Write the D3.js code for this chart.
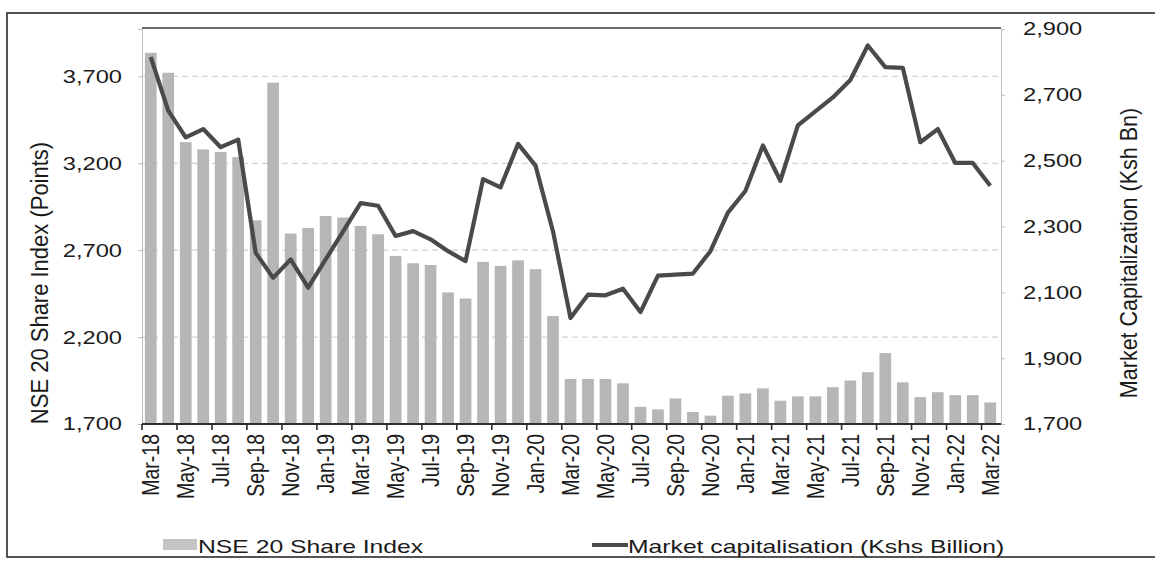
<!DOCTYPE html>
<html>
<head>
<meta charset="utf-8">
<script src="https://cdn.jsdelivr.net/npm/d3@7"></script>
<style>
  html, body { margin: 0; padding: 0; background: #fff; }
  svg { display: block; font-family: "Liberation Sans", Arial, sans-serif; }
</style>
</head>
<body>
<svg id="chart" width="1155" height="561"></svg>
<script>
// Months on the category axis
const months = [
    'Mar-18','Apr-18','May-18','Jun-18','Jul-18','Aug-18','Sep-18','Oct-18','Nov-18','Dec-18',
    'Jan-19','Feb-19','Mar-19','Apr-19','May-19','Jun-19','Jul-19','Aug-19','Sep-19','Oct-19','Nov-19','Dec-19',
    'Jan-20','Feb-20','Mar-20','Apr-20','May-20','Jun-20','Jul-20','Aug-20','Sep-20','Oct-20','Nov-20','Dec-20',
    'Jan-21','Feb-21','Mar-21','Apr-21','May-21','Jun-21','Jul-21','Aug-21','Sep-21','Oct-21','Nov-21','Dec-21',
    'Jan-22','Feb-22','Mar-22'
];

// NSE 20 Share Index (points) - bars, left axis
const nse20 = [
    3836, 3721, 3322, 3280, 3265, 3236, 2872, 3664, 2796, 2828,
    2897, 2888, 2840, 2792, 2667, 2625, 2615, 2457, 2422, 2633, 2610, 2642,
    2591, 2321, 1959, 1959, 1959, 1934, 1799, 1784, 1847, 1769, 1748, 1863,
    1876, 1905, 1834, 1859, 1859, 1912, 1950, 1998, 2108, 1940, 1855, 1883,
    1866, 1866, 1824
];

// Market capitalisation (Kshs Billion) - line, right axis
const marketCap = [
    2815, 2652, 2571, 2596, 2541, 2564, 2220, 2144, 2200, 2114,
    2200, 2285, 2371, 2363, 2271, 2286, 2261, 2225, 2195, 2444, 2419, 2551,
    2485, 2285, 2022, 2093, 2091, 2111, 2040, 2151, 2154, 2157, 2225, 2342,
    2408, 2546, 2439, 2607, 2650, 2692, 2745, 2850, 2784, 2782, 2556, 2596,
    2493, 2493, 2424
];

const leftTicks = [1700, 2200, 2700, 3200, 3700];
const rightTicks = [1700, 1900, 2100, 2300, 2500, 2700, 2900];
const xLabels = months.filter((m, i) => i % 2 === 0);

const seriesNames = ['NSE 20 Share Index', 'Market capitalisation (Kshs Billion)'];

// Layout
const plot = { left: 142, right: 999, top: 29, bottom: 424 };
const barColor = '#b6b6b6';
const lineColor = '#4a4a4a';

const svg = d3.select('#chart');

// scanned text looks horizontally stretched
function stretch(sel, k) {
    sel.each(function () {
        const w = this.getComputedTextLength();
        this.setAttribute('textLength', w * k);
        this.setAttribute('lengthAdjust', 'spacingAndGlyphs');
    });
}

// Outer frame
svg.append('rect')
    .attr('x', 7).attr('y', 13)
    .attr('width', 1170).attr('height', 544)
    .attr('fill', 'none')
    .attr('stroke', '#2a2a2a')
    .attr('stroke-width', 1.6);

// Scales
const x = d3.scaleBand()
    .domain(months)
    .range([plot.left, plot.right])
    .paddingInner(0.33)
    .paddingOuter(0.165);

const yLeft = d3.scaleLinear()
    .domain([1700, 3973])
    .range([plot.bottom, plot.top]);

const yRight = d3.scaleLinear()
    .domain([1700, 2900])
    .range([plot.bottom, plot.top]);

// Gridlines (left axis)
svg.append('g')
    .selectAll('line')
    .data(leftTicks.slice(1))
    .join('line')
    .attr('x1', plot.left).attr('x2', plot.right)
    .attr('y1', d => yLeft(d)).attr('y2', d => yLeft(d))
    .attr('stroke', '#d2d2d2')
    .attr('stroke-width', 1.2)
    .attr('stroke-dasharray', '6,4');

// Bars
svg.append('g')
    .selectAll('rect')
    .data(nse20)
    .join('rect')
    .attr('x', (d, i) => x(months[i]))
    .attr('y', d => yLeft(d))
    .attr('width', x.bandwidth())
    .attr('height', d => yLeft(1700) - yLeft(d))
    .attr('fill', barColor);

// Plot frame: top dark, sides light
svg.append('line')
    .attr('x1', plot.left).attr('x2', plot.right + 2)
    .attr('y1', plot.top - 1).attr('y2', plot.top - 1)
    .attr('stroke', '#3a3a3a').attr('stroke-width', 1.6);

// Left axis
const leftAxis = svg.append('g')
    .attr('transform', `translate(${plot.left},0)`)
    .call(d3.axisLeft(yLeft).tickValues(leftTicks).tickFormat(d3.format(',')).tickSize(4).tickPadding(16));
leftAxis.select('.domain').attr('stroke', '#bdbdbd');
leftAxis.selectAll('.tick line').attr('stroke', '#bdbdbd');
leftAxis.selectAll('text')
    .attr('font-size', 18.5)
    .attr('fill', '#1a1a1a')
    .attr('font-family', '"Liberation Sans", Arial, sans-serif')
    .call(stretch, 1.28);

// Right axis
const rightAxis = svg.append('g')
    .attr('transform', `translate(${plot.right + 2},0)`)
    .call(d3.axisRight(yRight).tickValues(rightTicks).tickFormat(d3.format(',')).tickSize(4).tickPadding(18));
rightAxis.select('.domain').attr('stroke', '#bdbdbd');
rightAxis.selectAll('.tick line').attr('stroke', '#bdbdbd');
rightAxis.selectAll('text')
    .attr('font-size', 18.5)
    .attr('fill', '#1a1a1a')
    .attr('font-family', '"Liberation Sans", Arial, sans-serif')
    .call(stretch, 1.28);

// Bottom axis: ticks between categories, labels centred on the month
const step = x.step();
const bottomAxis = svg.append('g')
    .attr('transform', `translate(0,${plot.bottom})`)
    .call(d3.axisBottom(x).tickValues(xLabels).tickSize(0).tickPadding(0));
bottomAxis.select('.domain')
    .attr('d', `M${plot.left},0H${plot.right + 2}`)
    .attr('stroke', '#2e2e2e').attr('stroke-width', 2);
bottomAxis.selectAll('.tick line')
    .attr('x1', -step / 2).attr('x2', -step / 2)
    .attr('y1', 0).attr('y2', 6)
    .attr('stroke', '#2e2e2e').attr('stroke-width', 1.6);
bottomAxis.selectAll('.tick text')
    .attr('transform', 'scale(1.2,1) rotate(-90)')
    .attr('x', -10).attr('y', 0)
    .attr('dy', '0.36em')
    .attr('text-anchor', 'end')
    .attr('font-size', 19.5)
    .attr('fill', '#1a1a1a')
    .attr('font-family', '"Liberation Sans", Arial, sans-serif');

// Market capitalisation line
const line = d3.line()
    .x((d, i) => x(months[i]) + x.bandwidth() / 2)
    .y(d => yRight(d));

svg.append('path')
    .datum(marketCap)
    .attr('d', line)
    .attr('fill', 'none')
    .attr('stroke', lineColor)
    .attr('stroke-width', 4.2)
    .attr('stroke-linejoin', 'round');

// Axis titles
svg.append('text')
    .attr('transform', 'translate(39,283) scale(1.1,1) rotate(-90)')
    .attr('text-anchor', 'middle')
    .attr('dy', '0.36em')
    .attr('font-size', 22)
    .attr('fill', '#1a1a1a')
    .text('NSE 20 Share Index (Points)');

svg.append('text')
    .attr('transform', 'translate(1128,253) scale(1.1,1) rotate(-90)')
    .attr('text-anchor', 'middle')
    .attr('dy', '0.36em')
    .attr('font-size', 21.5)
    .attr('fill', '#1a1a1a')
    .text('Market Capitalization (Ksh Bn)');

// Legend
const legend = svg.append('g');
legend.append('rect')
    .attr('x', 163).attr('y', 539)
    .attr('width', 34).attr('height', 11)
    .attr('fill', '#c4c4c4');
legend.append('text')
    .attr('x', 198).attr('y', 546)
    .attr('dy', '0.36em')
    .attr('font-size', 19)
    .attr('fill', '#1a1a1a')
    .text(seriesNames[0])
    .call(stretch, 1.3);

legend.append('line')
    .attr('x1', 592).attr('x2', 628)
    .attr('y1', 545).attr('y2', 545)
    .attr('stroke', lineColor)
    .attr('stroke-width', 4);
legend.append('text')
    .attr('x', 628).attr('y', 546)
    .attr('dy', '0.36em')
    .attr('font-size', 19)
    .attr('fill', '#1a1a1a')
    .text(seriesNames[1])
    .call(stretch, 1.3);
</script>
</body>
</html>
